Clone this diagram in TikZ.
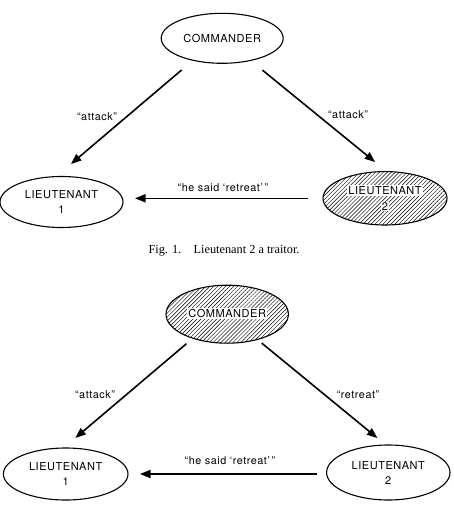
\documentclass[tikz,border=0pt]{standalone}
\usepackage{fontspec}
\newfontfamily\helv[LetterSpace=5]{TeX Gyre Heros}
\newfontfamily\capfont{Liberation Serif}
\usetikzlibrary{arrows.meta,patterns.meta,shapes.geometric}
\begin{document}
\begin{tikzpicture}[x=1pt,y=-1pt,
  ell/.style={ellipse,draw,line width=1.1pt,inner sep=0pt,outer sep=0pt},
  hatch/.style={pattern={Lines[angle=45,distance=2.8pt,line width=0.45pt]}},
  nodetext/.style={font=\helv\fontsize{11}{15}\selectfont,align=center,inner sep=0pt},
  wtext/.style={nodetext,fill=white,inner sep=1pt},
  lbl/.style={font=\helv\fontsize{10.8}{12}\selectfont,inner sep=0pt},
  arr/.style={line width=1.6pt,-{Triangle[length=10.5pt,width=8pt]}},
]
\useasboundingbox (0,0) rectangle (454,516);

% ---------- Fig. 1 ----------
\node[ell,nodetext,minimum width=122pt,minimum height=50pt] (c1) at (222.2,38.3) {COMMANDER};
\node[ell,nodetext,minimum width=123pt,minimum height=51pt] (l1a) at (61.5,202) {LIEUTENANT\\1};
\node[ell,hatch,minimum width=124pt,minimum height=53.4pt] (l2a) at (385,198.3) {};
\node[wtext] (l2at) at (385,190.5) {LIEUTENANT};
\node[wtext] (l2an) at (385,206.5) {2};

\draw[arr,shorten <=15pt,shorten >=19.5pt] (c1.217.4) -- (l1a.102);
\draw[arr,shorten <=15.3pt,shorten >=15.1pt] (c1.322.8) -- (l2a.86.4);
\draw[arr,shorten <=15pt,shorten >=12pt] (l2a.west) -- (l2a.west -| l1a.east);

\node[lbl] (t1) at (97,117) {“attack”};
\node[lbl] (t2) at (348,115) {“attack”};
\node[lbl] (t3) at (223,188) {“he said ‘retreat’\,”};

\node[font=\capfont\fontsize{12.3}{14}\selectfont,inner sep=0pt] (cap) at (224,250.7) {Fig. 1.\quad Lieutenant 2 a traitor.};

% ---------- second figure ----------
\node[ell,hatch,minimum width=122.4pt,minimum height=58pt] (c2) at (227.2,314.2) {};
\node[wtext] (c2t) at (227.2,313.5) {COMMANDER};
\node[ell,nodetext,minimum width=124.6pt,minimum height=52pt] (l1b) at (65.7,474) {LIEUTENANT\\1};
\node[ell,nodetext,minimum width=123.4pt,minimum height=55pt] (l2b) at (388.3,472.5) {LIEUTENANT\\2};

\draw[arr,shorten <=8.6pt,shorten >=15.6pt] (c2.215.9) -- (l1b.95.8);
\draw[arr,shorten <=5.7pt,shorten >=11pt] (c2.320.3) -- (l2b.95.8);
\draw[arr,shorten <=10pt,shorten >=12pt] (l1b.east -| l2b.west) -- (l1b.east);

\node[lbl] (b1) at (95,395) {“attack”};
\node[lbl] (b2) at (358,395) {“retreat”};
\node[lbl] (b3) at (230,461) {“he said ‘retreat’\,”};
\end{tikzpicture}
\end{document}
